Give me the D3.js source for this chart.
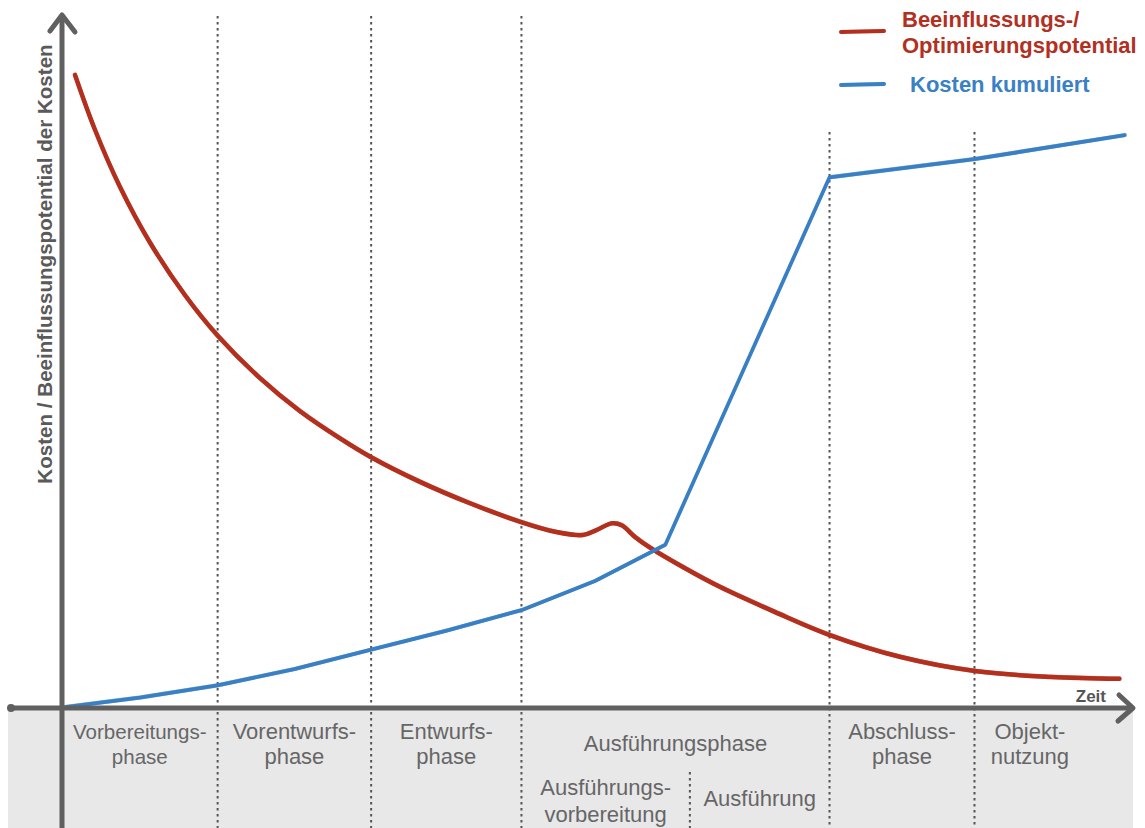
<!DOCTYPE html>
<html lang="de">
<head>
<meta charset="utf-8">
<title>Kosten und Beeinflussungspotential über die Projektphasen</title>
<script src="https://cdn.jsdelivr.net/npm/d3@7"></script>
<style>
  html, body { margin: 0; padding: 0; background: #fff; }
  svg { display: block; font-family: "Liberation Sans", Arial, Helvetica, sans-serif; }
</style>
</head>
<body>
<svg id="chart" width="1145" height="828"></svg>
<script>
// Zeit (0–100) und Wert (0–100), beide relativ
const influenceT = [1.22, 3.10, 5.44, 8.26, 11.54, 14.63, 18.57, 22.33, 26.08, 28.99, 33.58, 38.27, 43.06, 46.25, 48.87, 50.19, 51.6, 52.5, 53.75, 55.2, 58.4, 61.7, 66.9, 71.95, 78.6, 85.65, 92.7, 99.2];
const influenceV = [97.7, 89.2, 80.4, 71.8, 63.7, 57.4, 50.9, 45.8, 41.6, 38.7, 34.9, 31.6, 28.7, 27.2, 26.7, 27.5, 28.5, 28.2, 26.4, 24.7, 21.6, 18.7, 14.8, 11.3, 7.9, 5.7, 4.8, 4.5];

const costT = [0.3, 7.3, 14.6, 21.8, 29.0, 36.0, 43.1, 50.0, 56.6, 72.0, 85.6, 99.7];
const costV = [0.15, 1.6, 3.5, 6.0, 9.0, 11.9, 15.1, 19.6, 25.2, 81.9, 84.7, 88.4];

// Phasengrenzen auf der Zeitachse
const mainBounds = [0, 14.6, 29.0, 43.1, 72.0, 85.6, 96.0];
const mainLabels = [
  ["Vorbereitungs-", "phase"],
  ["Vorentwurfs-", "phase"],
  ["Entwurfs-", "phase"],
  ["Ausführungsphase"],
  ["Abschluss-", "phase"],
  ["Objekt-", "nutzung"]
];
const subBounds = [43.1, 58.9, 72.0];
const subLabels = [
  ["Ausführungs-", "vorbereitung"],
  ["Ausführung"]
];

const legendLabels = [
  ["Beeinflussungs-/", "Optimierungspotential"],
  ["Kosten kumuliert"]
];
const axisTitleY = "Kosten / Beeinflussungspotential der Kosten";
const axisTitleX = "Zeit";

const W = 1145, H = 828;
const RED = "#b3301f", BLUE = "#3a80c4", AXIS = "#606060", LABEL = "#666";

const x = d3.scaleLinear().domain([0, 100]).range([62, 1128]);
const y = d3.scaleLinear().domain([0, 100]).range([708, 60]);

const svg = d3.select("#chart");

// grauer Bereich unter der Zeitachse
svg.append("rect")
  .attr("x", 8).attr("y", y(0))
  .attr("width", x(100) + 5 - 8).attr("height", H - y(0))
  .attr("fill", "#e8e8e8");

// gepunktete Phasengrenzen
const tall = [mainBounds[1], mainBounds[2], mainBounds[3]];
const short = [mainBounds[4], mainBounds[5]];
const dots = svg.append("g")
  .attr("stroke", "#555").attr("stroke-width", 2)
  .attr("stroke-dasharray", "2.5,3.5");
dots.selectAll("line.tall").data(tall).join("line")
  .attr("class", "tall")
  .attr("x1", d => x(d)).attr("x2", d => x(d))
  .attr("y1", 16).attr("y2", H);
dots.selectAll("line.short").data(short).join("line")
  .attr("class", "short")
  .attr("x1", d => x(d)).attr("x2", d => x(d))
  .attr("y1", 132).attr("y2", H);
dots.append("line")
  .attr("x1", x(subBounds[1])).attr("x2", x(subBounds[1]))
  .attr("y1", 772).attr("y2", H);

// Kurven mit Pinselstrich-Optik
function stroke(ts, vs, color, curve, width) {
  const pts = ts.map((t, i) => [t, vs[i]]);
  const line = d3.line().x(d => x(d[0])).y(d => y(d[1])).curve(curve);
  const g = svg.append("g").attr("fill", "none").attr("stroke", color)
    .attr("stroke-linecap", "round").attr("stroke-linejoin", "round");
  g.append("path").attr("d", line(pts)).attr("stroke-width", width);
  g.append("path").attr("d", line(pts)).attr("stroke-width", 1.4)
    .attr("stroke-opacity", 0.55).attr("transform", "translate(0.8,-1.6)");
  g.append("path").attr("d", line(pts)).attr("stroke-width", 1.2)
    .attr("stroke-opacity", 0.5).attr("transform", "translate(-0.6,1.5)");
  return g;
}
stroke(influenceT, influenceV, RED, d3.curveCatmullRom.alpha(0.5), 4.5);
stroke(costT, costV, BLUE, d3.curveLinear, 3.8);

// Achsen
const axes = svg.append("g").attr("stroke", AXIS).attr("fill", "none")
  .attr("stroke-linecap", "round").attr("stroke-linejoin", "round");
axes.append("line")
  .attr("x1", x(0)).attr("x2", x(0)).attr("y1", 16).attr("y2", H + 4)
  .attr("stroke-width", 5);
axes.append("path")
  .attr("d", `M${x(0) - 12},${31} L${x(0)},${15} L${x(0) + 13},${32}`)
  .attr("stroke-width", 5);
axes.append("line")
  .attr("x1", 11).attr("x2", 1131).attr("y1", y(0)).attr("y2", y(0))
  .attr("stroke-width", 5);
axes.append("path")
  .attr("d", `M1119,${y(0) - 13} L1133,${y(0)} L1118,${y(0) + 13}`)
  .attr("stroke-width", 5);
svg.append("circle").attr("cx", 11).attr("cy", y(0)).attr("r", 4).attr("fill", AXIS);

// Achsentitel
svg.append("text")
  .attr("transform", `translate(52,${264}) rotate(-90)`)
  .attr("text-anchor", "middle")
  .attr("font-size", 20.6).attr("font-weight", "bold").attr("fill", "#5a5a5a")
  .text(axisTitleY);
svg.append("text")
  .attr("x", 1106).attr("y", y(0) - 6)
  .attr("text-anchor", "end")
  .attr("font-size", 17).attr("font-weight", "bold").attr("fill", "#555")
  .text(axisTitleX);

// Phasenbeschriftungen, bei Bedarf auf die Phasenbreite verkleinert
function phaseText(bounds, labels, base1, base2, single) {
  const size = 22;
  const g = svg.append("g").attr("font-size", size).attr("fill", LABEL)
    .attr("text-anchor", "middle");
  labels.forEach((lines, i) => {
    const cx = x((bounds[i] + bounds[i + 1]) / 2);
    const room = x(bounds[i + 1]) - x(bounds[i]) - 22;
    const t = g.append("text");
    if (lines.length === 1) {
      t.append("tspan").attr("x", cx).attr("y", single).text(lines[0]);
    } else {
      t.append("tspan").attr("x", cx).attr("y", base1).text(lines[0]);
      t.append("tspan").attr("x", cx).attr("y", base2).text(lines[1]);
    }
    const w = t.node().getBBox().width;
    if (w > room) t.attr("font-size", size * room / w);
  });
}
phaseText(mainBounds, mainLabels, 739, 764, 751);
phaseText(subBounds, subLabels, 795, 822, 806);

// Legende
const legend = svg.append("g");
const legendColors = [RED, BLUE];
const legendRows = [32, 85];
legendLabels.forEach((lines, i) => {
  const ly = legendRows[i];
  const g = legend.append("g").attr("stroke", legendColors[i]).attr("stroke-linecap", "round");
  g.append("line").attr("x1", 841).attr("x2", 884).attr("y1", ly).attr("y2", ly - 1).attr("stroke-width", 4);
  g.append("line").attr("x1", 844).attr("x2", 885).attr("y1", ly - 1.5).attr("y2", ly - 2).attr("stroke-width", 1.2).attr("stroke-opacity", 0.6);
  const t = legend.append("text").attr("font-size", 22).attr("font-weight", "bold")
    .attr("fill", legendColors[i]);
  if (lines.length === 2) {
    t.append("tspan").attr("x", 902).attr("y", 27).text(lines[0]);
    t.append("tspan").attr("x", 902).attr("y", 53).text(lines[1]);
  } else {
    t.append("tspan").attr("x", 910).attr("y", 92).text(lines[0]);
  }
});
</script>
</body>
</html>
